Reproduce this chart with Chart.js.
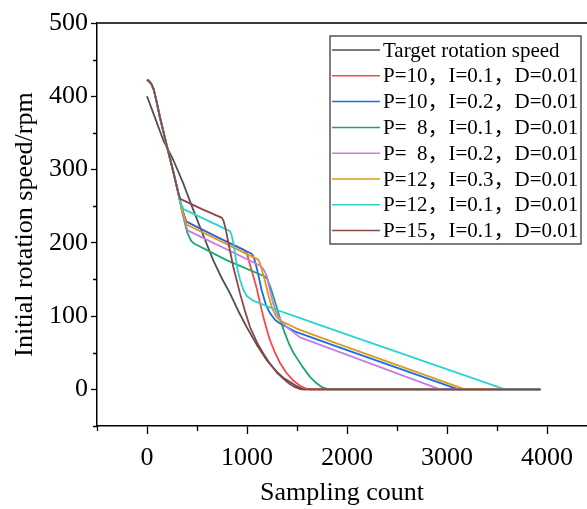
<!DOCTYPE html>
<html>
<head>
<meta charset="utf-8">
<script src="https://cdn.jsdelivr.net/npm/chart.js@4.4.0/dist/chart.umd.min.js"></script>
<style>
  html, body { margin: 0; padding: 0; background: #fff; }
  #wrap { width: 587px; height: 509px; }
</style>
</head>
<body>
<div id="wrap"><canvas id="c"></canvas></div>
<script>
(function() {
  'use strict';

  var SERIF = "'Liberation Serif', 'Times New Roman', 'Noto Sans CJK SC', serif";

  var LABELS = [
    'Target rotation speed',
    'P=10\uFF0CI=0.1\uFF0CD=0.01',
    'P=10\uFF0CI=0.2\uFF0CD=0.01',
    'P=  8\uFF0CI=0.1\uFF0CD=0.01',
    'P=  8\uFF0CI=0.2\uFF0CD=0.01',
    'P=12\uFF0CI=0.3\uFF0CD=0.01',
    'P=12\uFF0CI=0.1\uFF0CD=0.01',
    'P=15\uFF0CI=0.1\uFF0CD=0.01'
  ];
  var COLORS = ['#505050', '#ff4646', '#1a6de6', '#1aa86c', '#c47de8', '#de9a1a', '#2bd3d3', '#8c4848'];

  // minor ticks every 500 / 50, labels only on the major ones
  var X_TICKS = [-500, 0, 500, 1000, 1500, 2000, 2500, 3000, 3500, 4000];
  var X_LABELED = [0, 1000, 2000, 3000, 4000];
  var Y_TICKS = [-50, 0, 50, 100, 150, 200, 250, 300, 350, 400, 450, 500];
  var Y_LABELED = [0, 100, 200, 300, 400, 500];

  // sampling count, speed (rpm)
  var target = [[0,400],[63,377],[163,340],[263,313],[363,281],[463,245],[563,210],[663,176],[747,152],[830,131],[913,107],[997,85],[1097,61],[1197,40],[1260,30],[1313,22],[1370,15],[1430,10],[1500,4],[1563,0],[3930,0]];
  var head = [[0,421],[12,422],[25,420],[47,416],[70,408],[100,390],[130,371],[197,333],[263,297],[313,268]];
  var p10i01 = head.concat([[350,246],[392,229],[700,208],[975,190],[1000,185],[1030,170],[1060,156],[1097,138],[1130,118],[1163,99],[1197,82],[1230,67],[1280,50],[1330,36],[1397,22],[1463,12],[1530,5],[1590,1],[1630,0],[3930,0]]);
  var p10i02 = head.concat([[350,246],[392,229],[700,208],[1047,185],[1060,182],[1075,177],[1097,166],[1120,152],[1147,135],[1190,115],[1230,104],[1280,95],[1330,90],[1497,78],[1930,57],[3113,0],[3940,0]]);
  var p8i01 = head.concat([[350,243],[400,215],[440,203],[470,199],[800,176],[1180,154],[1200,151],[1225,143],[1250,133],[1297,112],[1347,89],[1380,76],[1420,62],[1460,51],[1497,43],[1560,30],[1630,17],[1690,9],[1750,3],[1813,0],[3930,0]]);
  var p8i02 = head.concat([[350,244],[405,217],[1130,169],[1160,165],[1180,160],[1200,154],[1225,138],[1260,118],[1297,103],[1350,92],[1397,85],[1530,71],[2930,0],[3930,0]]);
  var p12i03 = head.concat([[350,245],[395,225],[1113,177],[1130,172],[1155,160],[1180,148],[1215,128],[1247,112],[1290,100],[1330,94],[1497,83],[1930,61],[3180,0],[3930,0]]);
  var p12i01 = [[0,421],[12,422],[25,420],[47,416],[70,408],[100,390],[130,371],[197,333],[263,297],[313,268],[335,255],[365,246],[830,216],[845,211],[865,199],[885,181],[905,164],[930,150],[963,136],[1000,127],[1063,121],[1263,110],[1497,99],[1930,78],[3580,0],[3930,0]];
  var p15i01 = [[0,421],[12,422],[25,420],[47,416],[70,408],[100,390],[130,371],[197,333],[263,297],[313,268],[332,260],[550,246],[750,234],[765,230],[785,220],[820,196],[863,167],[930,131],[980,107],[1030,85],[1100,64],[1163,49],[1230,35],[1297,23],[1360,15],[1420,8],[1480,3],[1540,0],[3930,0]];

  var SERIES = [target, p10i01, p10i02, p8i01, p8i02, p12i03, p12i01, p15i01];

  function toXY(arr) {
    return arr.map(function(p) { return { x: p[0], y: p[1] }; });
  }

  var datasets = SERIES.map(function(s, i) {
    return {
      label: LABELS[i],
      data: toXY(s),
      showLine: true,
      borderColor: COLORS[i],
      backgroundColor: COLORS[i],
      borderWidth: 1.8,
      pointRadius: 0,
      tension: 0,
      borderJoinStyle: 'round',
      order: SERIES.length - i
    };
  });

  // legend box drawn inside the plot, top right
  var boxLegend = {
    id: 'boxLegend',
    afterDraw: function(chart) {
      var ctx = chart.ctx;
      var x0 = 330, y0 = 36, x1 = 581, y1 = 244;
      ctx.save();
      ctx.fillStyle = '#fff';
      ctx.fillRect(x0, y0, x1 - x0, y1 - y0);
      ctx.strokeStyle = '#555';
      ctx.lineWidth = 1.5;
      ctx.strokeRect(x0, y0, x1 - x0, y1 - y0);
      ctx.font = '21px ' + SERIF;
      ctx.textBaseline = 'middle';
      ctx.fillStyle = '#000';
      for (var i = 0; i < LABELS.length; i++) {
        var y = 50 + i * 25.8;
        ctx.strokeStyle = COLORS[i];
        ctx.lineWidth = 1.5;
        ctx.beginPath();
        ctx.moveTo(332, y);
        ctx.lineTo(380, y);
        ctx.stroke();
        ctx.fillText(LABELS[i], 383, y + 1);
      }
      ctx.restore();
    }
  };

  // top frame line + short minor ticks (major ones come from the grid)
  var frame = {
    id: 'frame',
    afterDraw: function(chart) {
      var a = chart.chartArea, ctx = chart.ctx;
      var sx = chart.scales.x, sy = chart.scales.y;
      ctx.save();
      ctx.strokeStyle = '#3a3a3a';
      ctx.lineWidth = 2;
      ctx.beginPath();
      ctx.moveTo(a.left, a.top);
      ctx.lineTo(a.right, a.top);
      ctx.stroke();
      ctx.strokeStyle = '#000';
      ctx.lineWidth = 1.3;
      ctx.beginPath();
      X_TICKS.forEach(function(v) {
        if (X_LABELED.indexOf(v) >= 0) return;
        var px = Math.round(sx.getPixelForValue(v)) + 0.5;
        ctx.moveTo(px, a.bottom);
        ctx.lineTo(px, a.bottom + 5);
      });
      Y_TICKS.forEach(function(v) {
        if (Y_LABELED.indexOf(v) >= 0) return;
        var py = Math.round(sy.getPixelForValue(v)) + 0.5;
        ctx.moveTo(a.left, py);
        ctx.lineTo(a.left - 4, py);
      });
      ctx.stroke();
      ctx.restore();
    }
  };

  function setTicks(values) {
    return function(scale) {
      scale.ticks = values.map(function(v) { return { value: v }; });
    };
  }

  function majorColor(list) {
    return function(c) { return list.indexOf(c.tick.value) >= 0 ? '#000' : 'rgba(0,0,0,0)'; };
  }

  new Chart(document.getElementById('c'), {
    type: 'scatter',
    data: { datasets: datasets },
    plugins: [frame, boxLegend],
    options: {
      responsive: true,
      maintainAspectRatio: false,
      animation: false,
      layout: { padding: { top: 23, left: 0, right: 0, bottom: 0 } },
      plugins: { legend: { display: false }, tooltip: { enabled: false } },
      scales: {
        x: {
          type: 'linear',
          min: -500,
          max: 4400,
          afterBuildTicks: setTicks(X_TICKS),
          afterFit: function(s) { s.height = 83; },
          ticks: {
            autoSkip: false,
            maxRotation: 0,
            color: '#000',
            padding: 9,
            font: { family: SERIF, size: 26 },
            callback: function(v) { return X_LABELED.indexOf(v) >= 0 ? String(v) : ''; }
          },
          grid: { drawOnChartArea: false, tickLength: 8, tickColor: majorColor(X_LABELED), tickWidth: 1.3 },
          border: { color: '#000', width: 1.5 },
          title: {
            display: true,
            text: 'Sampling count',
            color: '#000',
            font: { family: SERIF, size: 26 },
            padding: { top: 0, bottom: 0 }
          }
        },
        y: {
          min: -50,
          max: 500,
          afterBuildTicks: setTicks(Y_TICKS),
          afterFit: function(s) { s.width = 97; },
          ticks: {
            autoSkip: false,
            color: '#000',
            padding: 3,
            font: { family: SERIF, size: 26 },
            callback: function(v) { return Y_LABELED.indexOf(v) >= 0 ? String(v) : ''; }
          },
          grid: { drawOnChartArea: false, tickLength: 6, tickColor: majorColor(Y_LABELED), tickWidth: 1.3 },
          border: { color: '#000', width: 1.5 },
          title: {
            display: true,
            text: 'Initial rotation speed/rpm',
            color: '#000',
            font: { family: SERIF, size: 26 },
            padding: { top: 10, bottom: 0 }
          }
        }
      }
    }
  });
})();
</script>
</body>
</html>
